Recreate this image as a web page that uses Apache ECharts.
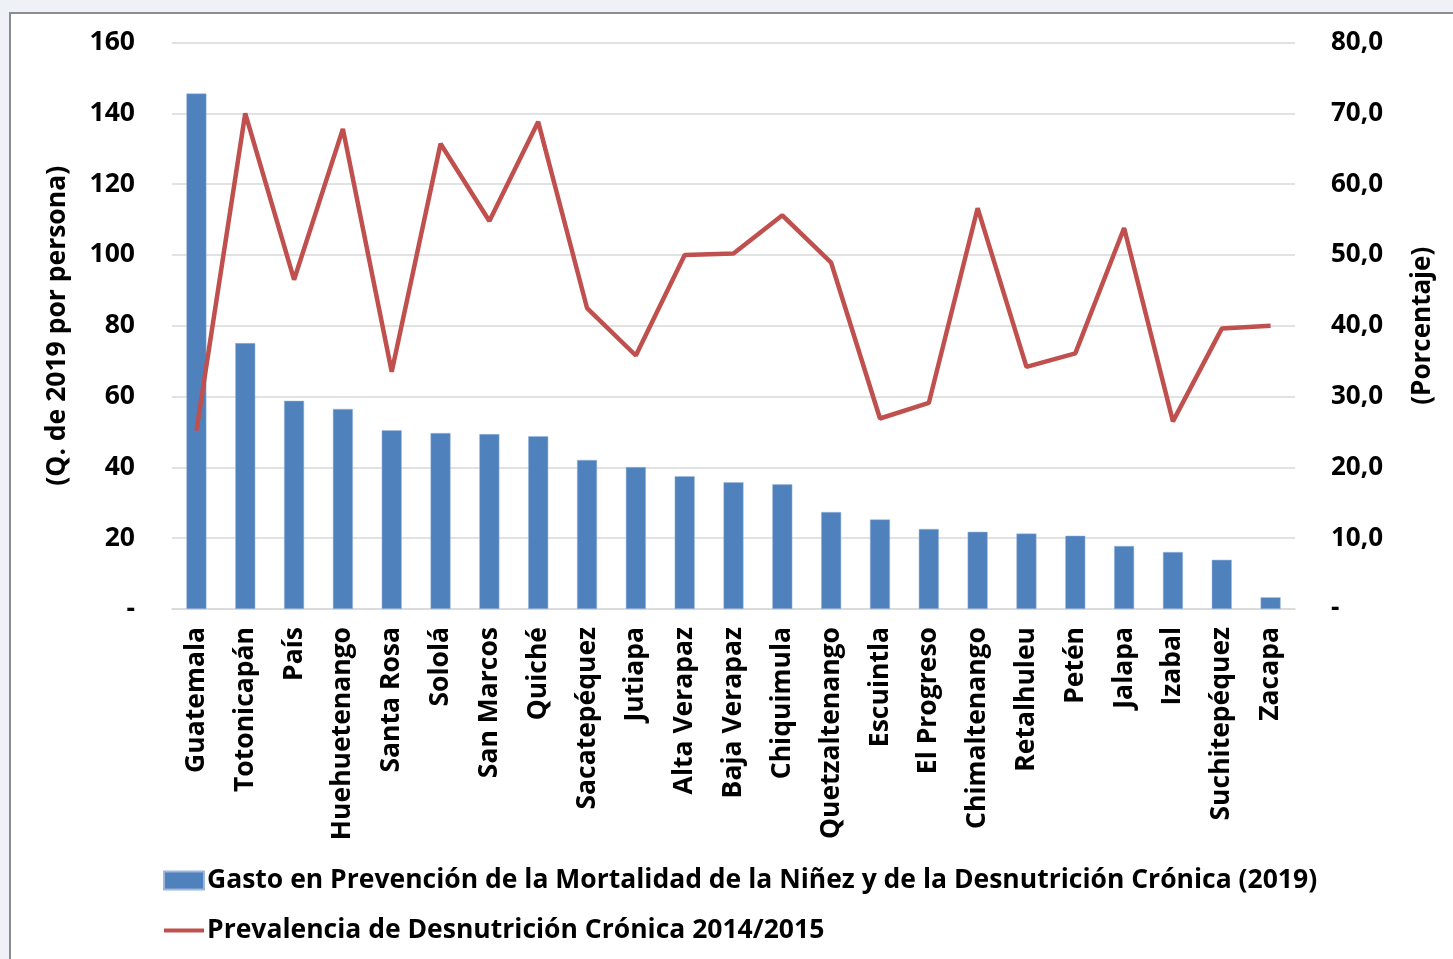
<!DOCTYPE html>
<html>
<head>
<meta charset="utf-8">
<title>Gasto vs prevalencia</title>
<script src="https://cdn.jsdelivr.net/npm/echarts@6/dist/echarts.min.js"></script>
<style>
    html, body { margin: 0; padding: 0; background: #eef2f6; }
    #frame {
        position: absolute; left: 9px; top: 12px; width: 1444px; height: 947px;
        background: #ffffff; border-left: 2px solid #8c8c8c; border-top: 2px solid #8c8c8c;
    }
    #main { position: absolute; left: 0; top: 0; width: 1453px; height: 959px; }
</style>
</head>
<body>
<div id="frame"></div>
<div id="main"></div>
<script>
    // departamentos
    var categories = ['Guatemala', 'Totonicapán', 'País', 'Huehuetenango', 'Santa Rosa', 'Sololá',
        'San Marcos', 'Quiché', 'Sacatepéquez', 'Jutiapa', 'Alta Verapaz', 'Baja Verapaz',
        'Chiquimula', 'Quetzaltenango', 'Escuintla', 'El Progreso', 'Chimaltenango',
        'Retalhuleu', 'Petén', 'Jalapa', 'Izabal', 'Suchitepéquez', 'Zacapa'];
    // gasto (Q. de 2019 por persona)
    var gasto = [145.6, 75.1, 58.8, 56.5, 50.5, 49.7, 49.4, 48.8, 42.1, 40.1, 37.5, 35.8,
        35.2, 27.4, 25.3, 22.6, 21.8, 21.3, 20.7, 17.8, 16.1, 13.9, 3.3];
    // prevalencia (%)
    var prevalencia = [25.2, 70.0, 46.5, 67.8, 33.5, 65.7, 54.8, 68.8, 42.5, 35.8, 50.0, 50.2,
        55.6, 48.9, 26.9, 29.1, 56.6, 34.2, 36.1, 53.8, 26.5, 39.6, 40.0];
    var leftTicks = [0, 20, 40, 60, 80, 100, 120, 140, 160];
    var rightTicks = [0, 10, 20, 30, 40, 50, 60, 70, 80];
    var seriesNames = ['Gasto en Prevención de la Mortalidad de la Niñez y de la Desnutrición Crónica (2019)',
        'Prevalencia de Desnutrición Crónica 2014/2015'];

    var font = '"Open Sans", sans-serif';
    function txt(size) {
        return { fontFamily: font, fontWeight: 'bold', fontSize: size, color: '#000' };
    }
    var myChart = echarts.init(document.getElementById('main'));
    myChart.setOption({
        backgroundColor: 'transparent',
        animation: false,
        textStyle: { fontFamily: font },
        grid: { left: 172, right: 158, top: 42.5, bottom: 350, containLabel: false, outerBoundsMode: 'none' },
        legend: {
            orient: 'vertical',
            left: 163,
            top: 867,
            padding: 0,
            itemWidth: 40,
            itemHeight: 18,
            itemGap: 23,
            textStyle: Object.assign({ padding: [0, 0, 0, -2] }, txt(26.5)),
            data: [
                { name: seriesNames[0], icon: 'rect' },
                { name: seriesNames[1], icon: 'path://M0,0 L40,0 L40,4 L0,4 Z' }
            ]
        },
        xAxis: {
            type: 'category',
            data: categories,
            axisLine: { lineStyle: { color: '#d9d9d9', width: 1.5 } },
            axisTick: { show: false },
            axisLabel: Object.assign({ rotate: 90, margin: 18, interval: 0 }, txt(26.5))
        },
        yAxis: [
            {
                type: 'value',
                min: leftTicks[0],
                max: leftTicks[leftTicks.length - 1],
                interval: 20,
                name: '(Q. de 2019 por persona)',
                nameLocation: 'middle',
                nameRotate: 90,
                nameGap: 101,
                nameTextStyle: txt(26.5),
                splitLine: { lineStyle: { color: '#d9d9d9', width: 1.5 } },
                axisLine: { show: false },
                axisTick: { show: false },
                axisLabel: Object.assign({
                    margin: 37,
                    formatter: function (v) { return v === 0 ? '-' : String(v); }
                }, txt(26.5))
            },
            {
                type: 'value',
                min: rightTicks[0],
                max: rightTicks[rightTicks.length - 1],
                interval: 10,
                name: '(Porcentaje)',
                nameLocation: 'middle',
                nameRotate: 90,
                nameGap: 115,
                nameTextStyle: txt(26),
                splitLine: { show: false },
                axisLine: { show: false },
                axisTick: { show: false },
                axisLabel: Object.assign({
                    margin: 36,
                    formatter: function (v) { return v === 0 ? '-' : v.toFixed(1).replace('.', ','); }
                }, txt(26))
            }
        ],
        series: [
            {
                name: seriesNames[0],
                type: 'bar',
                yAxisIndex: 0,
                barWidth: 20,
                itemStyle: { color: '#4F81BD', borderColor: '#9db8dc', borderWidth: 0.5 },
                data: gasto
            },
            {
                name: seriesNames[1],
                type: 'line',
                yAxisIndex: 1,
                symbol: 'none',
                lineStyle: { color: '#C0504D', width: 4.5 },
                itemStyle: { color: '#C0504D' },
                data: prevalencia
            }
        ]
    });
</script>
</body>
</html>
